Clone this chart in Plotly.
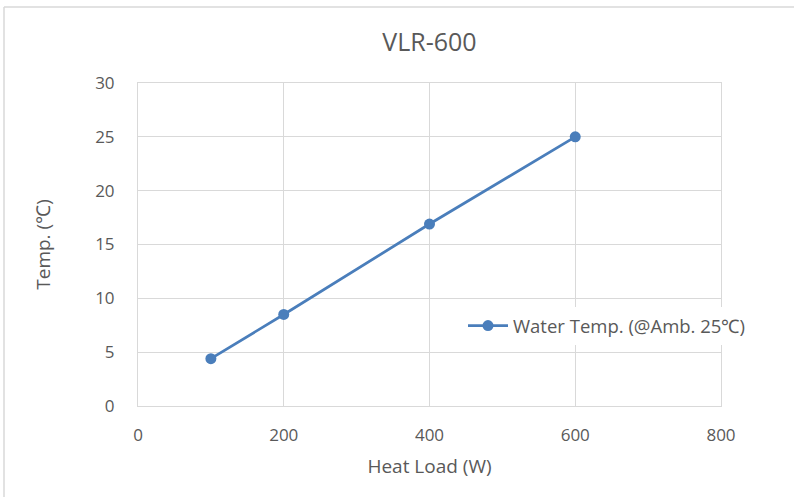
import plotly.graph_objects as go

heat_load = [100, 200, 400, 600]
water_temp = [4.4, 8.5, 16.9, 25.0]
series_name = "Water Temp. (@Amb. 25℃)"
title_text = "VLR-600"
x_title = "Heat Load (W)"
y_title = "Temp. (℃)"
x_ticks = [0, 200, 400, 600, 800]
y_ticks = [0, 5, 10, 15, 20, 25, 30]

W, H = 794, 497
L, R, T, B = 138, 721, 83, 406
font = "Open Sans, Liberation Sans, sans-serif"
txt = "#595959"
grid = "#d9d9d9"
blue = "#4a7ebb"

fig = go.Figure()
fig.add_trace(go.Scatter(
    x=heat_load, y=water_temp, mode="lines+markers", name=series_name,
    line=dict(color=blue, width=2.75),
    marker=dict(color=blue, size=11),
))

pw = R - L
ph = B - T
def px2paperx(p):
    return (p - L) / pw
def px2papery(p):
    return (B - p) / ph

fig.update_layout(
    width=W, height=H,
    margin=dict(l=L, r=W - R, t=T, b=H - B),
    paper_bgcolor="white", plot_bgcolor="white",
    font=dict(family=font, color=txt, size=17),
    title=dict(text=title_text, x=0.5, xref="paper", xanchor="center",
               y=1 - 42 / H, yref="container", yanchor="middle",
               font=dict(size=25, color=txt)),
    showlegend=True,
    legend=dict(x=px2paperx(463), y=px2papery(326), xanchor="left", yanchor="middle",
                bgcolor="rgba(255,255,255,1)", font=dict(size=18.5, color=txt),
                itemwidth=40, borderwidth=0),
    xaxis=dict(range=[0, 800], tickvals=x_ticks, showgrid=True, gridcolor=grid, gridwidth=1,
               showline=True, linecolor=grid, linewidth=1, mirror=True, zeroline=False,
               ticks="outside", ticklen=14, tickcolor="rgba(0,0,0,0)",
               tickfont=dict(size=17, color=txt),
               title=dict(text=x_title, font=dict(size=19, color=txt), standoff=14)),
    yaxis=dict(range=[0, 30], tickvals=y_ticks, showgrid=True, gridcolor=grid, gridwidth=1,
               showline=True, linecolor=grid, linewidth=1, mirror=True, zeroline=False,
               ticks="outside", ticklen=19, tickcolor="rgba(0,0,0,0)",
               tickfont=dict(size=17, color=txt),
               title=dict(text=y_title, font=dict(size=19, color=txt), standoff=39)),
)

# outer chart frame (left and top edges visible)
fig.add_shape(type="line", xref="paper", yref="paper",
              x0=px2paperx(4), x1=px2paperx(4), y0=px2papery(7), y1=px2papery(497),
              line=dict(color="#d9d9d9", width=1.5))
fig.add_shape(type="line", xref="paper", yref="paper",
              x0=px2paperx(4), x1=px2paperx(794), y0=px2papery(7), y1=px2papery(7),
              line=dict(color="#d9d9d9", width=1.5))

fig.write_html("out.html", config={"displayModeBar": False},
               post_script="document.body.style.margin='0';document.body.style.overflow='hidden';")
